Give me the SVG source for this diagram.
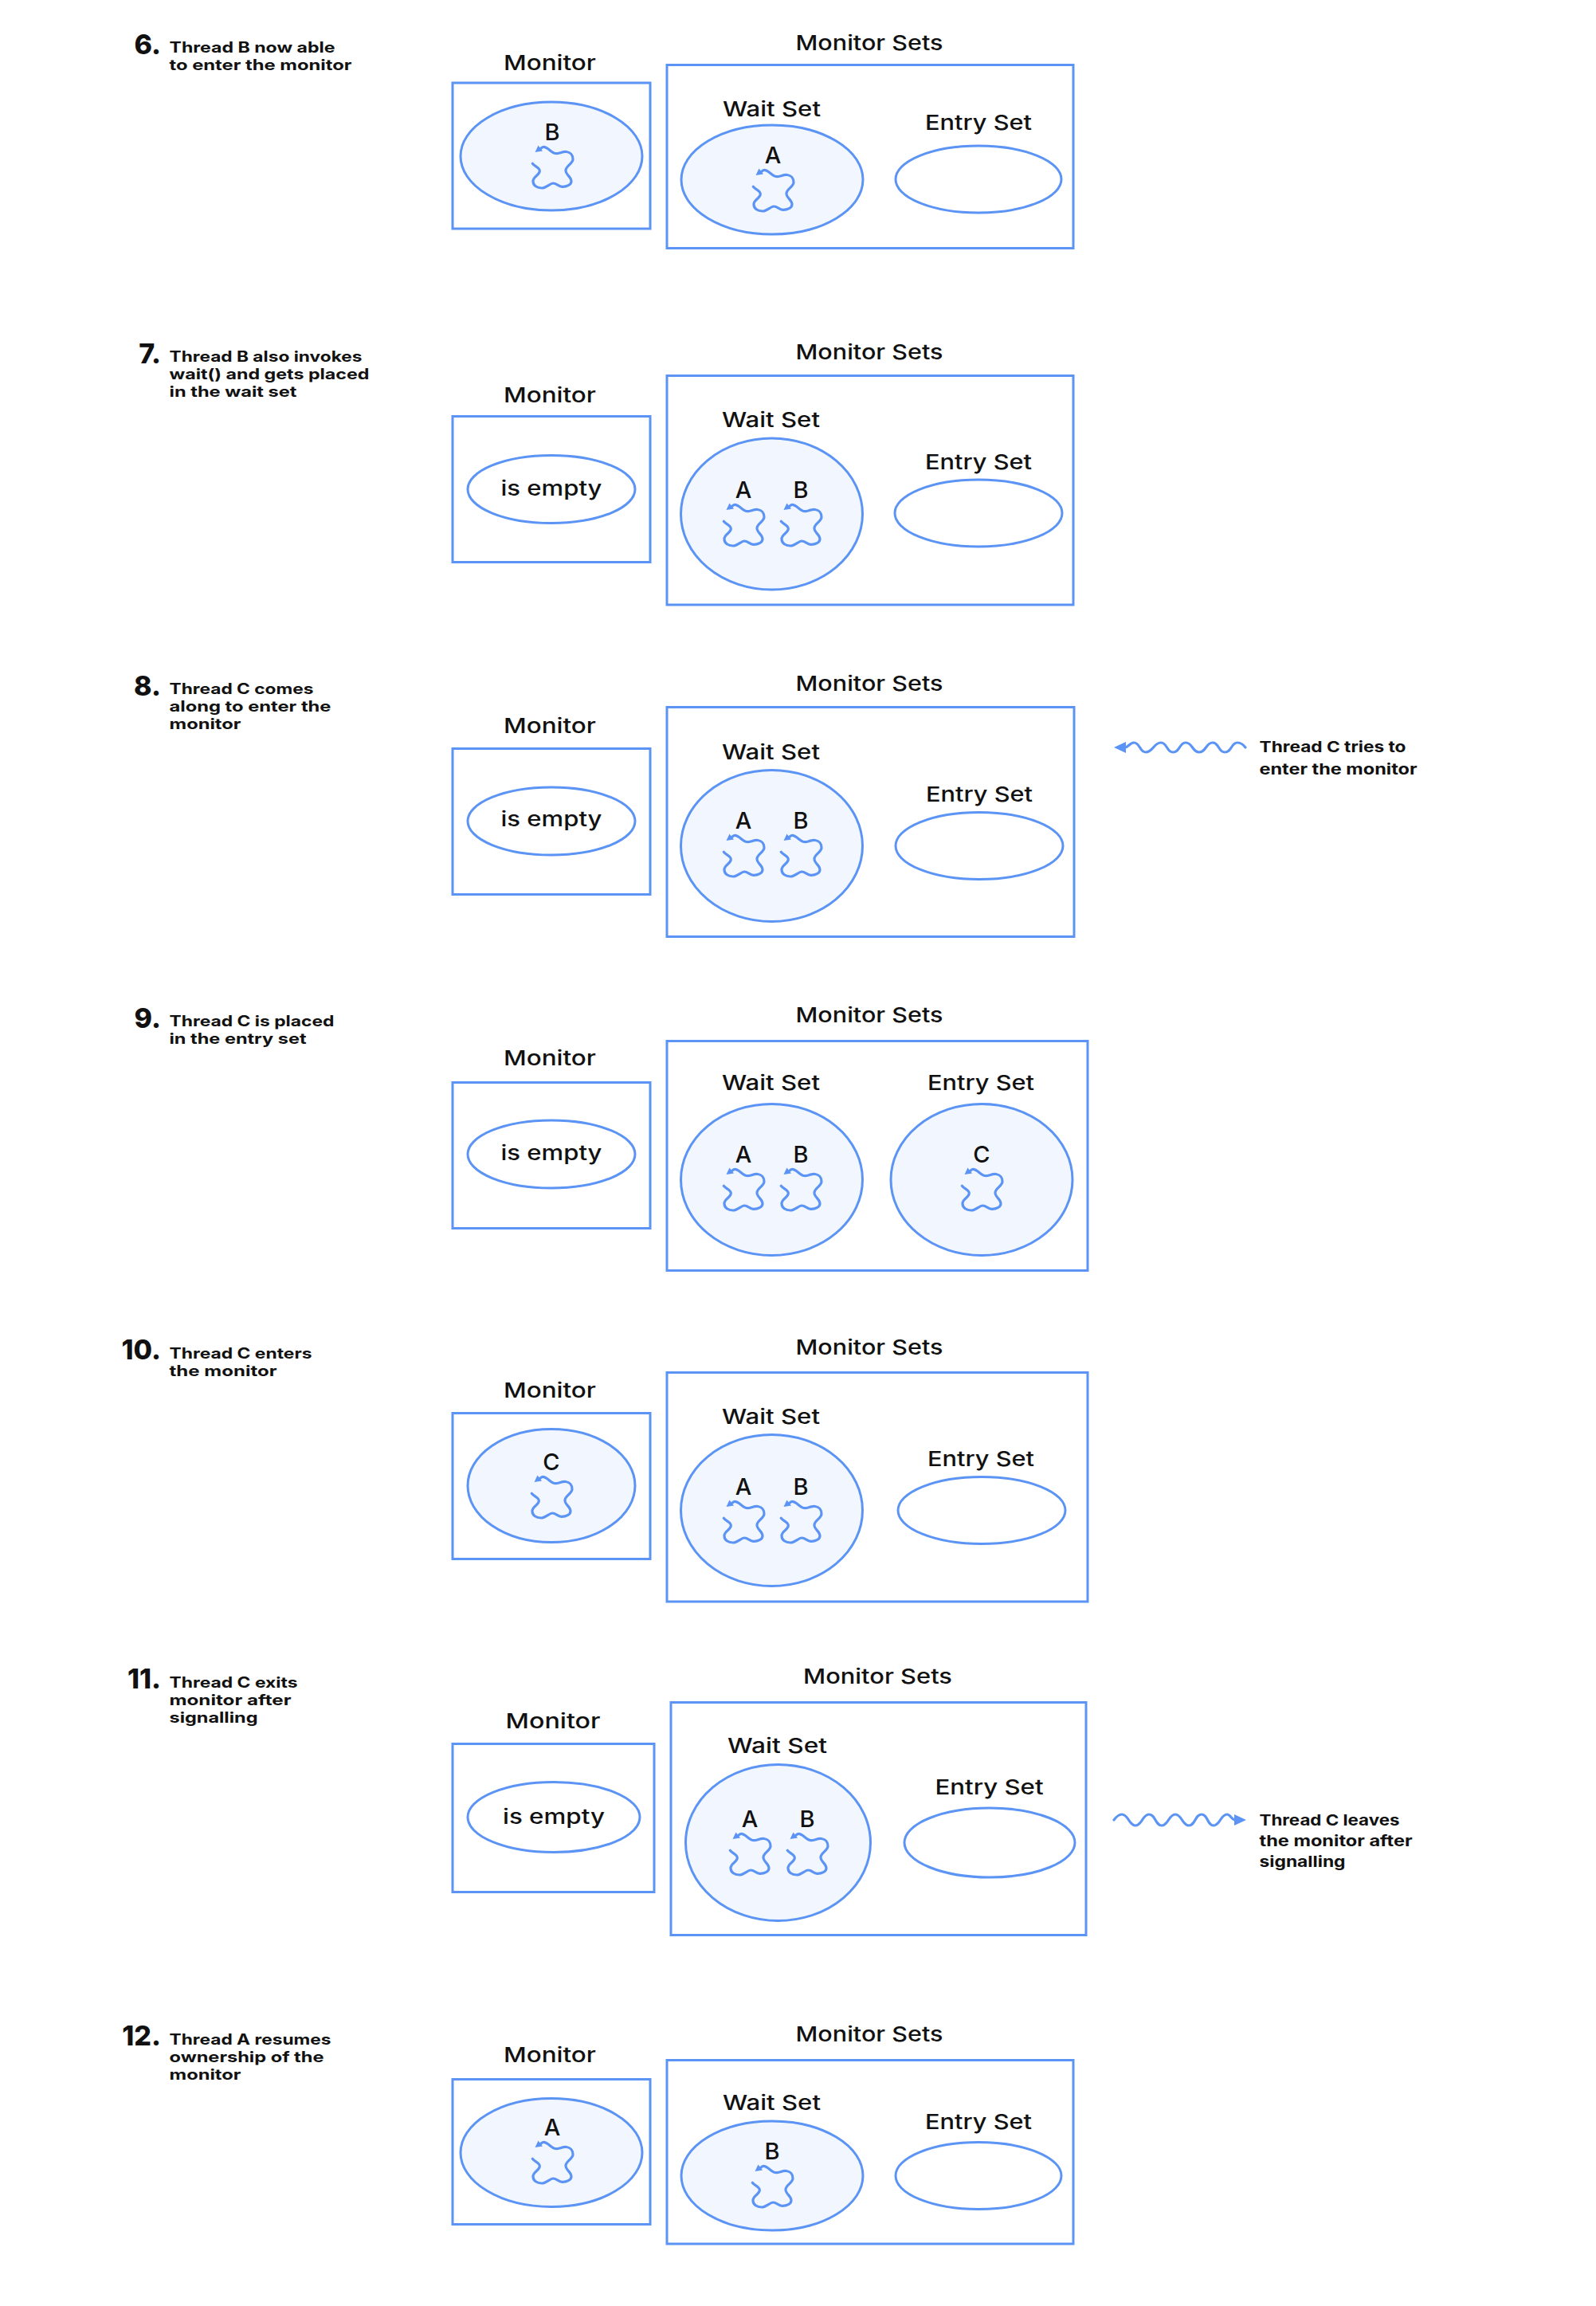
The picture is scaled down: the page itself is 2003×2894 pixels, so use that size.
<svg xmlns="http://www.w3.org/2000/svg" xmlns:xlink="http://www.w3.org/1999/xlink" width="2003" height="2894" viewBox="0 0 2003 2894">
<style>
text{font-family:"Inter","Liberation Sans",sans-serif;fill:#111}
.b{fill:none;stroke:#5b94f5;stroke-width:3}
.e{fill:#fff;stroke:#5b94f5;stroke-width:3}
.f{fill:#f2f6fe;stroke:#5b94f5;stroke-width:3}
.l{font-size:26px;font-weight:500;text-anchor:middle;transform:translateY(0.3px)}
.a{font-size:29px;font-weight:500;text-anchor:middle;transform:translateY(2px)}
.n{font-size:34px;font-weight:800;text-anchor:end;transform:translate(1px,1.5px)}
.d{font-size:18.5px;font-weight:700}
.r{font-size:19px;font-weight:700}
.w{fill:none;stroke:#5b94f5;stroke-width:3.2;stroke-linecap:round}
</style>
<defs>
<g id="t"><path class="w" d="M-15 13C-13 11-12.500 10.300-11 10.300C-5 10.300-1 18.700 5.300 18.700C9 18.700 13 16 18 16.500C23 17 26 21 26 26C26 31 17.500 34 17 39.500C16.500 45 24 48 24 53.500C24 58 18 60.500 12.500 60.300C8 60 5.500 56 1.300 56C-3 56-7 62-13 62C-19 62-24 59-24 53.500C-24 47-15.700 46-15.700 40.500C-15.700 36-22 35-24.700 31.300"/><path d="M-21.500 17L-17.500 8.500L-12 15.500Z" fill="#5b94f5"/></g>
<marker id="ah" markerUnits="userSpaceOnUse" markerWidth="18" markerHeight="18" refX="1" refY="9" orient="auto"><path d="M0 2L15 9L0 16Z" fill="#5b94f5"/></marker>
</defs>
<rect width="2003" height="2894" fill="#fff"/>

<g id="step6">
<text class="n" x="201" y="66">6.</text>
<text class="d" x="212.500" y="66" textLength="208" lengthAdjust="spacingAndGlyphs">Thread B now able</text>
<text class="d" x="212.500" y="88" textLength="229" lengthAdjust="spacingAndGlyphs">to enter the monitor</text>
</g>
<g id="monitor6"><text class="l" x="690" y="88" textLength="116" lengthAdjust="spacingAndGlyphs">Monitor</text><rect class="b" x="568" y="104" width="248" height="183"/><ellipse class="f" cx="692" cy="196" rx="114" ry="68"/><text class="a" x="693" y="174">B</text><use href="#t" x="693" y="174"/></g>
<g id="sets6"><text class="l" x="1091" y="63" textLength="185" lengthAdjust="spacingAndGlyphs">Monitor Sets</text><rect class="b" x="837" y="81.500" width="510" height="230"/>
<text class="l" x="968.500" y="146" textLength="123" lengthAdjust="spacingAndGlyphs">Wait Set</text><ellipse class="f" cx="969" cy="225.500" rx="114" ry="68.500"/><text class="a" x="970" y="203">A</text><use href="#t" x="970" y="203"/>
<text class="l" x="1228" y="163" textLength="134" lengthAdjust="spacingAndGlyphs">Entry Set</text><ellipse class="e" cx="1228" cy="225" rx="104" ry="42"/></g>

<g id="step7">
<text class="n" x="201" y="454">7.</text>
<text class="d" x="212.500" y="454" textLength="242" lengthAdjust="spacingAndGlyphs">Thread B also invokes</text>
<text class="d" x="212.500" y="476" textLength="251" lengthAdjust="spacingAndGlyphs">wait() and gets placed</text>
<text class="d" x="212.500" y="498" textLength="160" lengthAdjust="spacingAndGlyphs">in the wait set</text>
</g>
<g id="monitor7"><text class="l" x="690" y="505" textLength="116" lengthAdjust="spacingAndGlyphs">Monitor</text><rect class="b" x="568" y="522.500" width="248" height="183"/><ellipse class="e" cx="692" cy="614" rx="105" ry="42.500"/><text class="l" x="692" y="622" textLength="127" lengthAdjust="spacingAndGlyphs">is empty</text></g>
<g id="sets7"><text class="l" x="1091" y="451" textLength="185" lengthAdjust="spacingAndGlyphs">Monitor Sets</text><rect class="b" x="837" y="471.500" width="510" height="287.500"/>
<text class="l" x="967.500" y="536" textLength="123" lengthAdjust="spacingAndGlyphs">Wait Set</text><ellipse class="f" cx="968.500" cy="645" rx="114" ry="95"/><text class="a" x="933" y="623">A</text><use href="#t" x="933" y="623"/><text class="a" x="1005" y="623">B</text><use href="#t" x="1005" y="623"/>
<text class="l" x="1228" y="589" textLength="134" lengthAdjust="spacingAndGlyphs">Entry Set</text><ellipse class="e" cx="1228" cy="644" rx="105" ry="42"/></g>

<g id="step8">
<text class="n" x="201" y="871">8.</text>
<text class="d" x="212.500" y="871" textLength="181" lengthAdjust="spacingAndGlyphs">Thread C comes</text>
<text class="d" x="212.500" y="893" textLength="203" lengthAdjust="spacingAndGlyphs">along to enter the</text>
<text class="d" x="212.500" y="915" textLength="90" lengthAdjust="spacingAndGlyphs">monitor</text>
</g>
<g id="monitor8"><text class="l" x="690" y="920" textLength="116" lengthAdjust="spacingAndGlyphs">Monitor</text><rect class="b" x="568" y="939.500" width="248" height="183"/><ellipse class="e" cx="692" cy="1030.500" rx="105" ry="42.500"/><text class="l" x="692" y="1037" textLength="127" lengthAdjust="spacingAndGlyphs">is empty</text></g>
<g id="sets8"><text class="l" x="1091" y="867" textLength="185" lengthAdjust="spacingAndGlyphs">Monitor Sets</text><rect class="b" x="837" y="887.500" width="511" height="288"/>
<text class="l" x="967.500" y="953" textLength="123" lengthAdjust="spacingAndGlyphs">Wait Set</text><ellipse class="f" cx="968.500" cy="1061.500" rx="114" ry="95"/><text class="a" x="933" y="1038">A</text><use href="#t" x="933" y="1038"/><text class="a" x="1005" y="1038">B</text><use href="#t" x="1005" y="1038"/>
<text class="l" x="1229" y="1006" textLength="134" lengthAdjust="spacingAndGlyphs">Entry Set</text><ellipse class="e" cx="1229" cy="1061.500" rx="105" ry="42"/></g>
<g id="note8">
<text class="r" x="1580.500" y="944" textLength="184" lengthAdjust="spacingAndGlyphs">Thread C tries to</text>
<text class="r" x="1580.500" y="972" textLength="198" lengthAdjust="spacingAndGlyphs">enter the monitor</text>
</g>

<g id="step9">
<text class="n" x="201" y="1288">9.</text>
<text class="d" x="212.500" y="1288" textLength="207" lengthAdjust="spacingAndGlyphs">Thread C is placed</text>
<text class="d" x="212.500" y="1310" textLength="172" lengthAdjust="spacingAndGlyphs">in the entry set</text>
</g>
<g id="monitor9"><text class="l" x="690" y="1337" textLength="116" lengthAdjust="spacingAndGlyphs">Monitor</text><rect class="b" x="568" y="1358.500" width="248" height="183"/><ellipse class="e" cx="692" cy="1448.500" rx="105" ry="42.500"/><text class="l" x="692" y="1456" textLength="127" lengthAdjust="spacingAndGlyphs">is empty</text></g>
<g id="sets9"><text class="l" x="1091" y="1283" textLength="185" lengthAdjust="spacingAndGlyphs">Monitor Sets</text><rect class="b" x="837" y="1306.500" width="528" height="288"/>
<text class="l" x="967.500" y="1368" textLength="123" lengthAdjust="spacingAndGlyphs">Wait Set</text><ellipse class="f" cx="968.500" cy="1480.500" rx="114" ry="95"/><text class="a" x="933" y="1457">A</text><use href="#t" x="933" y="1457"/><text class="a" x="1005" y="1457">B</text><use href="#t" x="1005" y="1457"/>
<text class="l" x="1231" y="1368" textLength="134" lengthAdjust="spacingAndGlyphs">Entry Set</text><ellipse class="f" cx="1232" cy="1480.500" rx="114" ry="95"/><text class="a" x="1232" y="1457">C</text><use href="#t" x="1232" y="1457"/></g>

<g id="step10">
<text class="n" x="201" y="1704">10.</text>
<text class="d" x="212.500" y="1705" textLength="179" lengthAdjust="spacingAndGlyphs">Thread C enters</text>
<text class="d" x="212.500" y="1727" textLength="135" lengthAdjust="spacingAndGlyphs">the monitor</text>
</g>
<g id="monitor10"><text class="l" x="690" y="1754" textLength="116" lengthAdjust="spacingAndGlyphs">Monitor</text><rect class="b" x="568" y="1773.500" width="248" height="183"/><ellipse class="f" cx="692" cy="1864.500" rx="105" ry="71"/><text class="a" x="692" y="1843">C</text><use href="#t" x="692" y="1843"/></g>
<g id="sets10"><text class="l" x="1091" y="1700" textLength="185" lengthAdjust="spacingAndGlyphs">Monitor Sets</text><rect class="b" x="837" y="1722.500" width="528" height="287.500"/>
<text class="l" x="967.500" y="1787" textLength="123" lengthAdjust="spacingAndGlyphs">Wait Set</text><ellipse class="f" cx="968.500" cy="1895.500" rx="114" ry="95"/><text class="a" x="933" y="1874">A</text><use href="#t" x="933" y="1874"/><text class="a" x="1005" y="1874">B</text><use href="#t" x="1005" y="1874"/>
<text class="l" x="1231" y="1840" textLength="134" lengthAdjust="spacingAndGlyphs">Entry Set</text><ellipse class="e" cx="1232" cy="1895.500" rx="105" ry="42"/></g>

<g id="step11">
<text class="n" x="201" y="2117">11.</text>
<text class="d" x="212.500" y="2118" textLength="161" lengthAdjust="spacingAndGlyphs">Thread C exits</text>
<text class="d" x="212.500" y="2140" textLength="153" lengthAdjust="spacingAndGlyphs">monitor after</text>
<text class="d" x="212.500" y="2162" textLength="111" lengthAdjust="spacingAndGlyphs">signalling</text>
</g>
<g id="monitor11"><text class="l" x="694" y="2169" textLength="119" lengthAdjust="spacingAndGlyphs">Monitor</text><rect class="b" x="568" y="2188.500" width="253" height="186"/><ellipse class="e" cx="695" cy="2280.500" rx="108" ry="44"/><text class="l" x="695" y="2289" textLength="128" lengthAdjust="spacingAndGlyphs">is empty</text></g>
<g id="sets11"><text class="l" x="1101.500" y="2113" textLength="187" lengthAdjust="spacingAndGlyphs">Monitor Sets</text><rect class="b" x="842" y="2136.500" width="521" height="292"/>
<text class="l" x="975.500" y="2200" textLength="125" lengthAdjust="spacingAndGlyphs">Wait Set</text><ellipse class="f" cx="976.500" cy="2312.500" rx="116" ry="98"/><text class="a" x="941" y="2291">A</text><use href="#t" x="941" y="2291"/><text class="a" x="1013" y="2291">B</text><use href="#t" x="1013" y="2291"/>
<text class="l" x="1241.500" y="2252" textLength="136" lengthAdjust="spacingAndGlyphs">Entry Set</text><ellipse class="e" cx="1242" cy="2312.500" rx="107" ry="43.500"/></g>
<g id="note11">
<text class="r" x="1580.500" y="2291" textLength="176" lengthAdjust="spacingAndGlyphs">Thread C leaves</text>
<text class="r" x="1580.500" y="2317" textLength="192" lengthAdjust="spacingAndGlyphs">the monitor after</text>
<text class="r" x="1580.500" y="2343" textLength="108" lengthAdjust="spacingAndGlyphs">signalling</text>
</g>

<g id="step12">
<text class="n" x="201" y="2565">12.</text>
<text class="d" x="212.500" y="2566" textLength="203" lengthAdjust="spacingAndGlyphs">Thread A resumes</text>
<text class="d" x="212.500" y="2588" textLength="194" lengthAdjust="spacingAndGlyphs">ownership of the</text>
<text class="d" x="212.500" y="2610" textLength="90" lengthAdjust="spacingAndGlyphs">monitor</text>
</g>
<g id="monitor12"><text class="l" x="690" y="2588" textLength="116" lengthAdjust="spacingAndGlyphs">Monitor</text><rect class="b" x="568" y="2609.500" width="248" height="182"/><ellipse class="f" cx="692" cy="2701.500" rx="114" ry="68"/><text class="a" x="693" y="2678">A</text><use href="#t" x="693" y="2678"/></g>
<g id="sets12"><text class="l" x="1091" y="2562" textLength="185" lengthAdjust="spacingAndGlyphs">Monitor Sets</text><rect class="b" x="837" y="2585.500" width="510" height="230.500"/>
<text class="l" x="968.500" y="2648" textLength="123" lengthAdjust="spacingAndGlyphs">Wait Set</text><ellipse class="f" cx="969" cy="2730.500" rx="114" ry="68.500"/><text class="a" x="969" y="2708">B</text><use href="#t" x="969" y="2708"/>
<text class="l" x="1228" y="2672" textLength="134" lengthAdjust="spacingAndGlyphs">Entry Set</text><ellipse class="e" cx="1228" cy="2730.500" rx="104" ry="42"/></g>

<g id="connectors">
<path class="w" marker-end="url(#ah)" d="M1563 938C1560 934 1557 932 1553 932C1545 932 1546 944 1537 944C1529 944 1530 932 1522 932C1513 932 1514 944 1505 944C1496 944 1497 932 1488 932C1480 932 1481 944 1472 944C1464 944 1465 932 1457 932C1448 932 1447 944 1438 944C1430 944 1431 932 1423 932C1418 932 1416 938 1412 938"/>
<path class="w" marker-end="url(#ah)" d="M1398 2284C1401 2280 1404 2277 1408 2277C1416 2277 1417 2291 1425 2291C1433 2291 1434 2277 1442 2277C1450 2277 1450 2291 1458 2291C1466 2291 1467 2277 1475 2277C1483 2277 1484 2291 1492 2291C1500 2291 1500 2277 1508 2277C1516 2277 1515 2291 1523 2291C1531 2291 1532 2277 1540 2277C1544 2277 1546 2284 1550 2284"/>
</g>
</svg>
